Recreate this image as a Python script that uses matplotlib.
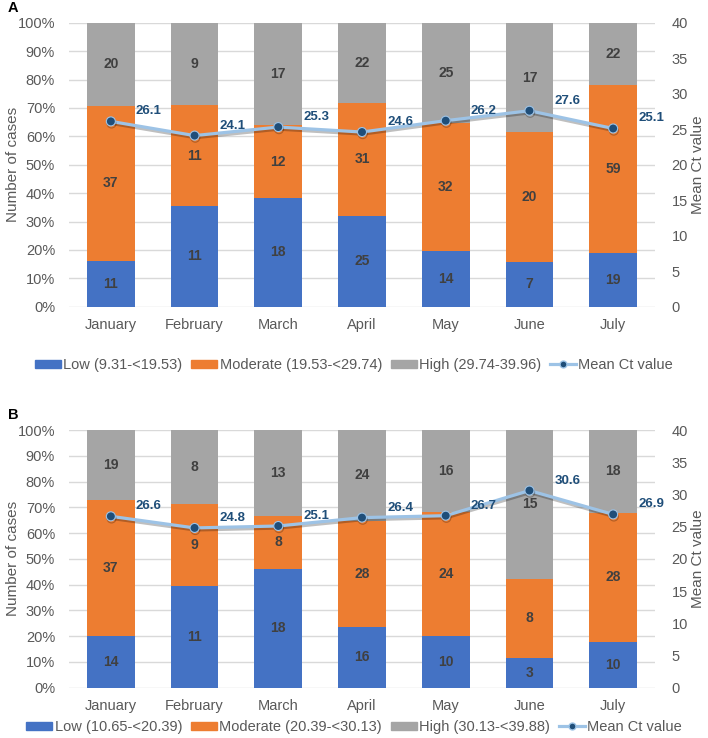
import numpy as np
import matplotlib
matplotlib.use("Agg")
from matplotlib import pyplot as plt
from matplotlib import patheffects as pe
from matplotlib.patches import Patch
from matplotlib.lines import Line2D

plt.rcParams['font.family'] = ['Liberation Sans', 'DejaVu Sans']

# Data
months = ["January", "February", "March", "April", "May", "June", "July"]

low_a = [11, 11, 18, 25, 14, 7, 19]
mod_a = [37, 11, 12, 31, 32, 20, 59]
high_a = [20, 9, 17, 22, 25, 17, 22]
mean_a = [26.1, 24.1, 25.3, 24.6, 26.2, 27.6, 25.1]
legend_a = ["Low (9.31-<19.53)", "Moderate (19.53-<29.74)",
            "High (29.74-39.96)", "Mean Ct value"]

low_b = [14, 11, 18, 16, 10, 3, 10]
mod_b = [37, 9, 8, 28, 24, 8, 28]
high_b = [19, 8, 13, 24, 16, 15, 18]
mean_b = [26.6, 24.8, 25.1, 26.4, 26.7, 30.6, 26.9]
legend_b = ["Low (10.65-<20.39)", "Moderate (20.39-<30.13)",
            "High (30.13-<39.88)", "Mean Ct value"]

BLUE, ORANGE, GRAY = "#4472C4", "#ED7D31", "#A5A5A5"
LINE, MARK = "#9DC3E6", "#1F4E79"
TXT = "#595959"

W, H = 708, 738
fig = plt.figure(figsize=(W / 100, H / 100), dpi=100)


def panel(top_px, bot_px, low, mod, high, mean, labels, letter, legend_y):
    ax = fig.add_axes([69 / W, 1 - bot_px / H, 586 / W, (bot_px - top_px) / H])
    x = np.arange(len(months))
    tot = np.array(low) + np.array(mod) + np.array(high)
    segs = [np.array(low) / tot * 100, np.array(mod) / tot * 100, np.array(high) / tot * 100]
    counts = [low, mod, high]
    bottom = np.zeros(len(months))
    for s, c, col in zip(segs, counts, [BLUE, ORANGE, GRAY]):
        ax.bar(x, s, bottom=bottom, width=0.57, color=col, zorder=2)
        for xi, b, h, n in zip(x, bottom, s, c):
            ax.text(xi, b + h / 2, str(n), ha="center", va="center",
                    fontsize=10, fontweight="bold", color="#404040", zorder=3)
        bottom += s
    ax.set_xlim(-0.5, 6.5)
    ax.set_ylim(0, 100)
    ax.set_yticks(range(0, 101, 10))
    ax.set_yticklabels([f"{v}%" for v in range(0, 101, 10)])
    ax.set_xticks(x)
    ax.set_xticklabels(months)
    ax.grid(axis="y", color="#D9D9D9", linewidth=1, zorder=0)
    ax.set_axisbelow(True)
    for sp in ax.spines.values():
        sp.set_visible(False)
    ax.tick_params(length=0, labelsize=10.5, labelcolor=TXT, pad=8)
    ax.tick_params(axis="y", pad=10)
    ax.set_ylabel("Number of cases", fontsize=11, color=TXT, labelpad=-1.5)

    ax2 = ax.twinx()
    ax2.set_ylim(0, 40)
    ax2.set_yticks(range(0, 41, 5))
    for sp in ax2.spines.values():
        sp.set_visible(False)
    ax2.tick_params(length=0, labelsize=10.5, labelcolor=TXT, pad=12)
    ax2.set_ylabel("Mean Ct value", fontsize=11, color=TXT, labelpad=2)
    ax2.plot(x, mean, color=LINE, linewidth=2.3, marker="o", markersize=6.5,
             markerfacecolor=MARK, markeredgecolor=LINE, markeredgewidth=0.8,
             zorder=4,
             path_effects=[pe.SimpleLineShadow(offset=(0.5, -1.5), alpha=0.25),
                           pe.Normal()])
    for xi, m in zip(x, mean):
        ax2.annotate(f"{m}", (xi, m), xytext=(38, 10), textcoords="offset pixels",
                     ha="center", va="center", fontsize=9.5, fontweight="bold",
                     color=MARK, zorder=5)

    fig.text(8 / W, 1 - (top_px - 15) / H, letter, fontsize=10.5,
             fontweight="bold", ha="left", va="center")

    handles = [Patch(color=BLUE), Patch(color=ORANGE), Patch(color=GRAY),
               Line2D([], [], color=LINE, linewidth=2.3, marker="o", markersize=5,
                      markerfacecolor=MARK, markeredgecolor=LINE)]
    leg = fig.legend(handles, labels, loc="center", ncol=4,
                     bbox_to_anchor=(354 / W, 1 - legend_y / H), frameon=False,
                     fontsize=10.5, handlelength=1.8, handleheight=0.45,
                     handletextpad=0.15, columnspacing=0.6, borderpad=0)
    for t in leg.get_texts():
        t.set_color(TXT)


panel(22.7, 306.7, low_a, mod_a, high_a, mean_a, legend_a, "A", 365)
panel(430, 687.7, low_b, mod_b, high_b, mean_b, legend_b, "B", 727)

fig.savefig("out.png", dpi=100)
